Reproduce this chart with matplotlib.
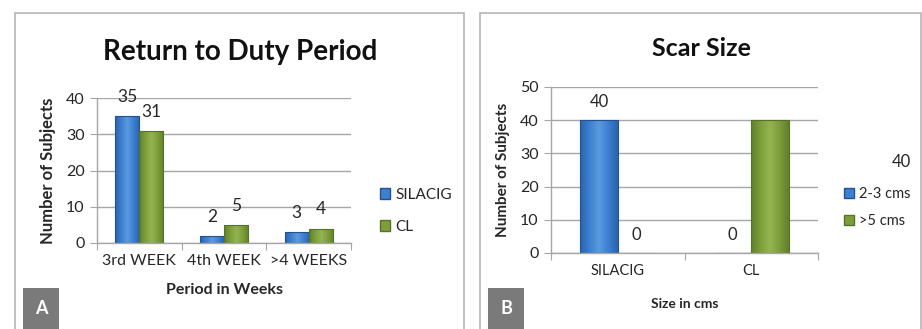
import matplotlib
matplotlib.use("Agg")
import matplotlib.pyplot as plt
from matplotlib.patches import Rectangle
from matplotlib.colors import LinearSegmentedColormap
import numpy as np

plt.rcParams['font.family'] = ['Lato', 'DejaVu Sans']

# Panel A data
a_categories = ["3rd WEEK", "4th WEEK", ">4 WEEKS"]
a_silacig = [35, 2, 3]
a_cl = [31, 5, 4]
a_yticks = [0, 10, 20, 30, 40]

# Panel B data
b_categories = ["SILACIG", "CL"]
b_small = [40, 0]   # 2-3 cms
b_large = [0, 40]   # >5 cms
b_yticks = [0, 10, 20, 30, 40, 50]

BLUE = "#3d7fd1"
BLUE_E = "#23528a"
GREEN = "#7d9e3b"
GREEN_E = "#55712a"
GRID = "#a6a6a6"
TXT = "#262626"

W, H = 922, 329
fig = plt.figure(figsize=(W / 100, H / 100), dpi=100)

def fx(px):
    return px / W

def fy(py):
    return 1 - py / H

# panel borders
for x0, x1 in [(15, 464), (480, 921)]:
    fig.patches.append(Rectangle((fx(x0), fy(H + 5)), fx(x1 - x0), fy(13) - fy(H + 5),
                                 transform=fig.transFigure, fill=False,
                                 edgecolor="#b5b5b5", linewidth=1.2))

def style_axes(ax, ymax, yticks, ncat):
    ax.set_ylim(0, ymax)
    ax.set_xlim(-0.5, ncat - 0.5)
    ax.set_yticks(yticks)
    ax.yaxis.grid(True, color=GRID, linewidth=1)
    ax.set_axisbelow(True)
    for s in ["top", "right"]:
        ax.spines[s].set_visible(False)
    for s in ["left", "bottom"]:
        ax.spines[s].set_color(GRID)
        ax.spines[s].set_linewidth(1)
    ax.set_xticks(np.arange(-0.5, ncat, 1.0))
    ax.set_xticklabels([])
    ax.set_xticks(np.arange(ncat), minor=True)
    ax.tick_params(axis="x", which="major", length=5, color=GRID, direction="out")
    ax.tick_params(axis="x", which="minor", length=0, labelsize=11.5, colors=TXT, pad=8)
    ax.tick_params(axis="y", length=5, color=GRID, labelsize=11.5, labelcolor=TXT, pad=4)

def shade(ax, bars, dark, mid, light):
    cmap = LinearSegmentedColormap.from_list("g", [dark, mid, light, mid, dark])
    grad = np.linspace(0, 1, 64).reshape(1, -1)
    for b in bars:
        if b.get_height() <= 0:
            continue
        x0, y0 = b.get_x(), b.get_y()
        w, h = b.get_width(), b.get_height()
        im = ax.imshow(grad, extent=[x0, x0 + w, y0, y0 + h], aspect="auto",
                       cmap=cmap, zorder=2.1, interpolation="bicubic")
        im.set_clip_path(b)
        b.set_facecolor("none")
        b.set_zorder(2.2)

# ---------------- Panel A ----------------
axA = fig.add_axes([fx(97), fy(243), fx(351 - 97), fy(98) - fy(243)])
x = np.arange(len(a_categories))
bw = 0.285
b1 = axA.bar(x - bw / 2, a_silacig, bw, color=BLUE, edgecolor=BLUE_E, linewidth=0.8, label="SILACIG")
b2 = axA.bar(x + bw / 2, a_cl, bw, color=GREEN, edgecolor=GREEN_E, linewidth=0.8, label="CL")
style_axes(axA, 40, a_yticks, len(a_categories))
axA.set_xticklabels(a_categories, minor=True)
axA.bar_label(b1, padding=8, fontsize=12.5, color=TXT)
axA.bar_label(b2, padding=8, fontsize=12.5, color=TXT)
axA.set_ylabel("Number of Subjects", fontsize=12, fontweight="bold", color=TXT, labelpad=7)
axA.set_xlabel("Period in Weeks", fontsize=11.5, fontweight="bold", color=TXT, labelpad=11)
fig.text(fx(240), fy(52), "Return to Duty Period", ha="center", va="center",
         fontsize=20, fontweight="bold", color="#111111")
fig.legend(handles=[Rectangle((0, 0), 1, 1, fc=BLUE, ec=BLUE_E),
                    Rectangle((0, 0), 1, 1, fc=GREEN, ec=GREEN_E)],
           labels=["SILACIG", "CL"], loc="upper left",
           bbox_to_anchor=(fx(366), fy(174)), frameon=False, fontsize=11,
           handlelength=0.7, handleheight=0.7, handletextpad=0.3, labelspacing=1.2,
           labelcolor=TXT)

# ---------------- Panel B ----------------
axB = fig.add_axes([fx(551), fy(253), fx(818 - 551), fy(87) - fy(253)])
x = np.arange(len(b_categories))
bwB = 0.28
c1 = axB.bar(x - bwB / 2, b_small, bwB, color=BLUE, edgecolor=BLUE_E, linewidth=0.8, label="2-3 cms")
c2 = axB.bar(x + bwB / 2, b_large, bwB, color=GREEN, edgecolor=GREEN_E, linewidth=0.8, label=">5 cms")
style_axes(axB, 50, b_yticks, len(b_categories))
axB.set_xticklabels(b_categories, minor=True)
axB.tick_params(axis="x", which="minor", labelsize=10.5)
axB.bar_label(c1, labels=["40", "0"], padding=7, fontsize=12, color=TXT)
axB.bar_label(c2, labels=["0", ""], padding=7, fontsize=12, color=TXT)
axB.set_ylabel("Number of Subjects", fontsize=11, fontweight="bold", color=TXT, labelpad=7)
axB.set_xlabel("Size in cms", fontsize=10, fontweight="bold", color=TXT, labelpad=14)
fig.text(fx(701), fy(48), "Scar Size", ha="center", va="center",
         fontsize=18, fontweight="bold", color="#111111")
fig.text(fx(901), fy(162), str(b_large[1]), ha="center", va="center", fontsize=12, color=TXT)
fig.legend(handles=[Rectangle((0, 0), 1, 1, fc=BLUE, ec=BLUE_E),
                    Rectangle((0, 0), 1, 1, fc=GREEN, ec=GREEN_E)],
           labels=["2-3 cms", ">5 cms"], loc="upper left",
           bbox_to_anchor=(fx(831), fy(174)), frameon=False, fontsize=10.5,
           handlelength=0.7, handleheight=0.7, handletextpad=0.3, labelspacing=0.9,
           labelcolor=TXT)

shade(axA, b1, "#2a64ad", BLUE, "#5b9be0")
shade(axA, b2, "#60812a", GREEN, "#93b450")
shade(axB, c1, "#2a64ad", BLUE, "#5b9be0")
shade(axB, c2, "#60812a", GREEN, "#93b450")
axA.set_xlim(-0.5, 2.5); axA.set_ylim(0, 40)
axB.set_xlim(-0.5, 1.5); axB.set_ylim(0, 50)

# panel letters
for x0, letter in [(23, "A"), (488, "B")]:
    fig.patches.append(Rectangle((fx(x0), 0), fx(36), fy(288), transform=fig.transFigure,
                                 facecolor="#7a7a7a", edgecolor="none"))
    fig.text(fx(x0 + 18), fy(309), letter, ha="center", va="center",
             fontsize=13, fontweight="bold", color="white")

fig.savefig("out.png", dpi=100)
